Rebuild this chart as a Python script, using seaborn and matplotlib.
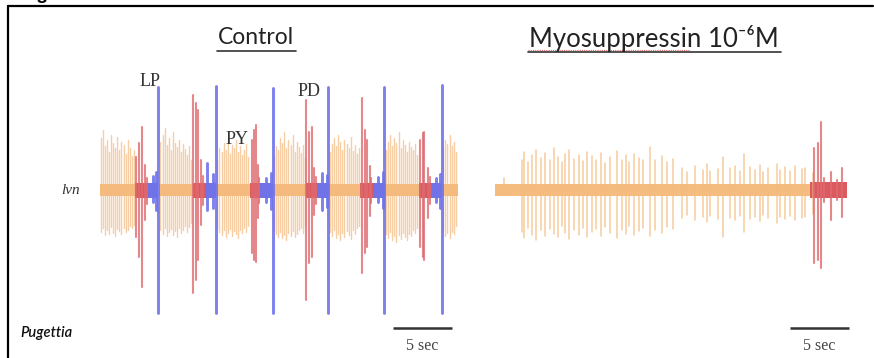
import numpy as np
import pandas as pd
import matplotlib
matplotlib.use("Agg")
import matplotlib.pyplot as plt
import seaborn as sns
from matplotlib.lines import Line2D

# ---------------- data (time in s, amplitude in arbitrary units) ----------------
# Control: tonic/bursting segments
ctrl_orange_band = [(0.0, 2.97), (5.0, 7.88), (9.83, 12.71), (14.62, 17.46),
                    (19.36, 22.03), (24.11, 27.03), (28.98, 30.34)]
ctrl_red_band = [(2.97, 4.07), (7.88, 8.90), (12.71, 13.56), (17.46, 18.39),
                 (22.03, 23.14), (27.03, 28.14)]
ctrl_blue_band = [(4.07, 4.92), (8.90, 9.79), (13.56, 14.62), (18.39, 19.36),
                  (23.14, 24.11), (28.14, 28.98)]

ctrl_orange_t = [0.1, 0.28, 0.45, 0.62, 0.8, 0.97, 1.13, 1.3, 1.48, 1.65, 1.82, 2.0, 2.17, 2.35, 2.52, 2.7, 2.85,
                 5.12, 5.3, 5.47, 5.65, 5.82, 6.0, 6.17, 6.35, 6.52, 6.7, 6.87, 7.05, 7.22, 7.4, 7.57, 7.75,
                 9.95, 10.12, 10.3, 10.47, 10.65, 10.82, 11.0, 11.17, 11.35, 11.52, 11.7, 11.87, 12.05, 12.22, 12.4, 12.57,
                 14.75, 14.92, 15.1, 15.27, 15.45, 15.62, 15.8, 15.97, 16.15, 16.32, 16.5, 16.67, 16.85, 17.02, 17.2, 17.37,
                 19.5, 19.67, 19.85, 20.02, 20.2, 20.37, 20.55, 20.72, 20.9, 21.07, 21.25, 21.42, 21.6, 21.77, 21.92,
                 24.25, 24.42, 24.6, 24.77, 24.95, 25.12, 25.3, 25.47, 25.65, 25.82, 26.0, 26.17, 26.35, 26.52, 26.7, 26.87,
                 29.1, 29.27, 29.45, 29.62, 29.8, 29.97, 30.15]
ctrl_orange_up = [52, 60, 44, 50, 38, 55, 47, 42, 53, 40, 48, 45, 36, 50, 42, 34, 40,
                  48, 55, 62, 45, 52, 40, 58, 47, 43, 50, 38, 46, 41, 35, 44, 30,
                  30, 42, 38, 47, 40, 52, 36, 45, 42, 50, 38, 44, 35, 40, 46, 33,
                  35, 44, 40, 52, 47, 58, 42, 50, 45, 55, 38, 48, 43, 37, 45, 32,
                  38, 46, 52, 44, 55, 48, 40, 50, 46, 42, 53, 39, 45, 36, 42,
                  40, 48, 55, 44, 52, 47, 58, 42, 50, 45, 38, 48, 43, 40, 46, 35,
                  42, 50, 46, 55, 44, 48, 38]
ctrl_orange_dn = [42, 38, 45, 40, 44, 37, 43, 46, 39, 41, 44, 38, 42, 40, 36, 38, 35,
                  40, 44, 38, 46, 42, 39, 45, 41, 47, 38, 43, 40, 36, 42, 37, 33,
                  38, 42, 45, 40, 47, 43, 39, 46, 41, 44, 48, 40, 43, 38, 42, 36,
                  40, 44, 47, 42, 48, 45, 50, 43, 46, 41, 47, 44, 40, 38, 43, 36,
                  42, 46, 40, 48, 44, 50, 43, 47, 41, 45, 49, 40, 44, 38, 36,
                  44, 48, 42, 50, 46, 52, 45, 49, 43, 47, 50, 44, 46, 40, 43, 38,
                  40, 46, 43, 48, 42, 44, 36]

ctrl_red_t = [3.05, 3.31, 3.56, 3.81, 3.95,
              7.88, 8.14, 8.31, 8.56, 8.7,
              12.88, 13.05, 13.22, 13.39, 13.48,
              17.46, 17.71, 17.97, 18.14, 18.28,
              22.2, 22.46, 22.63, 22.88, 23.0,
              27.12, 27.37, 27.5, 27.8, 27.95]
ctrl_red_up = [33, 47, 63, 25, 12,
               95, 87, 80, 30, 14,
               50, 60, 65, 25, 12,
               90, 58, 63, 22, 13,
               92, 60, 50, 24, 12,
               50, 57, 58, 22, 13]
ctrl_red_dn = [47, 67, 97, 30, 14,
               103, 90, 70, 35, 15,
               63, 70, 72, 28, 13,
               110, 73, 67, 25, 14,
               83, 63, 57, 26, 13,
               57, 67, 70, 28, 14]

ctrl_blue_t = [4.5, 4.75, 4.92, 9.07, 9.6, 9.79, 14.1, 14.45, 14.62,
               18.81, 19.2, 19.36, 23.6, 23.95, 24.11, 28.5, 28.8, 28.98]
ctrl_blue_up = [14, 18, 103, 27, 16, 104, 12, 17, 102,
                17, 15, 103, 13, 18, 103, 12, 16, 105]
ctrl_blue_dn = [12, 20, 123, 20, 18, 123, 12, 19, 123,
                20, 17, 123, 12, 18, 123, 12, 18, 123]

# Myosuppressin 10^-6 M
myo_orange_band = [(0.0, 26.69)]
myo_red_band = [(26.69, 29.83)]
myo_orange_t = [0.76, 2.26, 2.46, 2.82, 3.11, 3.47, 3.87, 4.24, 4.66, 5.0, 5.37, 5.65, 5.93, 6.3, 6.69,
                7.14, 7.49, 7.82, 8.19, 8.56, 8.95, 9.32, 9.75, 10.31, 10.73, 11.1, 11.38, 11.78,
                12.23, 12.57, 13.14, 13.56, 14.12, 14.55, 15.11,
                15.85, 16.27, 16.95, 17.63, 17.97, 18.22, 18.9, 19.32, 19.92, 20.34, 20.76, 21.1,
                21.61, 22.03, 22.46, 22.71, 23.14, 23.9, 24.15, 24.58, 25.0, 25.42, 26.02, 26.27, 26.95]
myo_orange_up = [12, 30, 38, 28, 35, 40, 32, 37, 30, 42, 33, 28, 36, 40, 31,
                 35, 29, 38, 34, 30, 37, 27, 33, 39, 30, 35, 28, 36,
                 32, 30, 43, 30, 34, 28, 31,
                 22, 18, 24, 20, 26, 19, 21, 33, 22, 24, 19, 36,
                 23, 20, 25, 18, 22, 26, 20, 23, 19, 24, 21, 22, 17]
myo_orange_dn = [5, 42, 48, 38, 45, 50, 40, 46, 39, 44, 47, 36, 43, 49, 40,
                 45, 38, 47, 42, 39, 46, 37, 43, 48, 40, 44, 36, 45,
                 41, 38, 46, 40, 43, 37, 39,
                 28, 25, 30, 27, 32, 26, 29, 47, 28, 30, 26, 42,
                 29, 27, 31, 25, 28, 33, 27, 29, 26, 30, 28, 27, 24]
myo_red_t = [27.03, 27.37, 27.63, 28.47, 29.41, 27.9, 29.0]
myo_red_up = [42, 47, 68, 18, 22, 12, 10]
myo_red_dn = [73, 70, 78, 30, 27, 12, 10]

# ---------------- styling ----------------
ORANGE = "#F5BC80"
ORANGE_SPK = "#F4BA7E"
RED = "#DA5A60"
RED_SPK = "#DE6A70"
BLUE = "#7072E6"
BLUE_SPK = "#7073EA"

W, H = 874, 358
sns.set_theme(style="white")
plt.rcParams["font.family"] = ["Lato", "DejaVu Sans"]

fig = plt.figure(figsize=(W / 100, H / 100), dpi=100)
fig.patch.set_facecolor("white")


def fx(px):
    return px / W


def fy(py):
    return 1 - py / H


def spikes_df(t, up, dn, cell):
    rows = []
    for i, (tt, u, d) in enumerate(zip(t, up, dn)):
        rows.append((tt, u, cell, f"{cell}{i}"))
        rows.append((tt, -d, cell, f"{cell}{i}"))
    return pd.DataFrame(rows, columns=["time", "amp", "cell", "unit"])


def draw_bands(ax, bands, half, color):
    for a, b in bands:
        ax.fill_between([a, b], [-half, -half], [half, half], color=color, lw=0, zorder=2)


def draw_spikes(ax, t, up, dn, cell, color, lw, alpha, z):
    df = spikes_df(t, up, dn, cell)
    sns.lineplot(data=df, x="time", y="amp", units="unit", estimator=None, sort=False,
                 color=color, lw=lw, alpha=alpha, ax=ax, legend=False, zorder=z)


ax_w = 358 / W
ax_h = 260 / H
ax_b = (H - 320) / H
axes = []
for left in (100, 495):
    ax = fig.add_axes([fx(left), ax_b, ax_w, ax_h])
    ax.set_xlim(0, 30.34)
    ax.set_ylim(-130, 130)
    ax.axis("off")
    axes.append(ax)
ax1, ax2 = axes

# Control
draw_bands(ax1, ctrl_orange_band, 6, ORANGE)
draw_spikes(ax1, ctrl_orange_t, ctrl_orange_up, ctrl_orange_dn, "o", ORANGE_SPK, 1.0, 0.7, 3)
draw_bands(ax1, ctrl_red_band, 7.5, RED)
draw_bands(ax1, ctrl_blue_band, 7.5, BLUE)
draw_spikes(ax1, ctrl_red_t, ctrl_red_up, ctrl_red_dn, "r", RED_SPK, 1.5, 0.8, 4)
draw_spikes(ax1, ctrl_blue_t, ctrl_blue_up, ctrl_blue_dn, "b", BLUE_SPK, 2.1, 0.9, 5)

# Myosuppressin
draw_bands(ax2, myo_orange_band, 6, ORANGE)
draw_spikes(ax2, myo_orange_t, myo_orange_up, myo_orange_dn, "o", ORANGE_SPK, 1.1, 0.75, 3)
draw_bands(ax2, myo_red_band, 8, RED)
draw_spikes(ax2, myo_red_t, myo_red_up, myo_red_dn, "r", RED_SPK, 1.5, 0.8, 4)

# scale bars (5 s)
for ax, x0 in ((ax1, 24.83), (ax2, 25.0)):
    ax.plot([x0, x0 + 5], [-138, -138], color="#333333", lw=1.8, clip_on=False, solid_capstyle="butt")
    ax.text(x0 + 2.5, -156, "5 sec", ha="center", va="center", fontsize=11.5,
            family=["Liberation Serif"], color="#444444", clip_on=False)

# frame
fig.add_artist(Line2D([fx(8), fx(8)], [fy(6), 0], color="black", lw=1.6))
fig.add_artist(Line2D([fx(8), fx(873)], [fy(6), fy(6)], color="black", lw=1.6))
fig.text(fx(20), fy(-1), "Fig", fontsize=14, fontweight="bold", family=["Liberation Sans"],
         ha="left", va="baseline", color="black")

# titles
fig.text(fx(256), fy(38), "Control", fontsize=16.5, ha="center", va="center", color="#222222")
fig.add_artist(Line2D([fx(217), fx(296)], [fy(51), fy(51)], color="#333333", lw=1.2))
fig.text(fx(654), fy(38), "Myosuppressin 10\u207b\u2076M", fontsize=18.5, ha="center", va="center",
         color="#222222")
fig.add_artist(Line2D([fx(528), fx(781)], [fy(52), fy(52)], color="#333333", lw=1.2))
fig.add_artist(Line2D([fx(528), fx(690)], [fy(50), fy(50)], color="#E06060", lw=0.8, ls=(0, (1, 1))))

# cell labels
for txt, x, y in (("LP", 150, 82), ("PY", 237, 140), ("PD", 309, 91)):
    fig.text(fx(x), fy(y), txt, fontsize=13, family=["Liberation Serif"], ha="center",
             va="center", color="#333333")
fig.text(fx(70), fy(190), "lvn", fontsize=11, family=["Liberation Serif"], style="italic",
         ha="center", va="center", color="#333333")
fig.text(fx(20), fy(333), "Pugettia", fontsize=10.5, style="italic", fontweight="semibold",
         ha="left", va="center", color="#111111")

fig.savefig("out.png", dpi=100, facecolor="white")
